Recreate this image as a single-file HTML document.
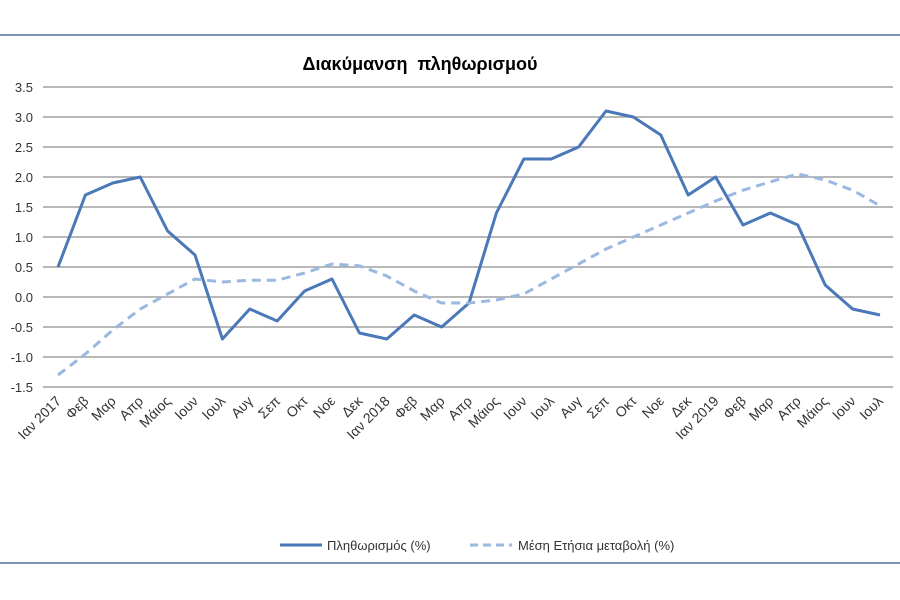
<!DOCTYPE html>
<html><head><meta charset="utf-8"><style>
body{margin:0;background:#fff}
svg{display:block;font-family:"Liberation Sans","DejaVu Sans",sans-serif}
</style></head><body>
<svg width="900" height="600" id="chart">
<line x1="0" y1="35" x2="900" y2="35" stroke="#4a6fa5" stroke-width="1.5"/>
<line x1="0" y1="563" x2="900" y2="563" stroke="#4a6fa5" stroke-width="1.5"/>
<text x="420" y="70" text-anchor="middle" font-size="18" font-weight="bold">Διακύμανση&#160; πληθωρισμού</text>
<g id="grid"></g><g id="ylab"></g><g id="xlab"></g><g id="lines"></g>
<g>
<line x1="280" y1="545" x2="322" y2="545" stroke="#4a78b8" stroke-width="3"/>
<text x="327" y="550" font-size="13" fill="#333">Πληθωρισμός (%)</text>
<line x1="470" y1="545" x2="512" y2="545" stroke="#9ab8e0" stroke-width="3" stroke-dasharray="8,5"/>
<text x="518" y="550" font-size="13" fill="#333">Μέση Ετήσια μεταβολή (%)</text>
</g>
</svg>
<script>
const categories=["Ιαν 2017","Φεβ","Μαρ","Απρ","Μάιος","Ιουν","Ιουλ","Αυγ","Σεπ","Οκτ","Νοε","Δεκ","Ιαν 2018","Φεβ","Μαρ","Απρ","Μάιος","Ιουν","Ιουλ","Αυγ","Σεπ","Οκτ","Νοε","Δεκ","Ιαν 2019","Φεβ","Μαρ","Απρ","Μάιος","Ιουν","Ιουλ"];
const inflation=[0.5,1.7,1.9,2.0,1.1,0.7,-0.7,-0.2,-0.4,0.1,0.3,-0.6,-0.7,-0.3,-0.5,-0.1,1.4,2.3,2.3,2.5,3.1,3.0,2.7,1.7,2.0,1.2,1.4,1.2,0.2,-0.2,-0.3];
const average=[-1.3,-0.95,-0.55,-0.2,0.05,0.3,0.25,0.28,0.28,0.4,0.55,0.52,0.35,0.1,-0.1,-0.1,-0.05,0.05,0.3,0.55,0.8,1.0,1.2,1.4,1.6,1.78,1.92,2.05,1.95,1.78,1.52];
const yTicks=[3.5,3.0,2.5,2.0,1.5,1.0,0.5,0.0,-0.5,-1.0,-1.5];
const NS="http://www.w3.org/2000/svg";
const x=i=>58+i*(822/30);
const y=v=>297-v*60;
function mk(t,a,p){const e=document.createElementNS(NS,t);for(const k in a)e.setAttribute(k,a[k]);document.getElementById(p).appendChild(e);return e;}
yTicks.forEach(v=>{
 const l=mk('line',{x1:43,x2:893,y1:y(v),y2:y(v),stroke:'#a0a0a0','stroke-width':1.5},'grid');
 
 
 const t=mk('text',{x:33,y:y(v)+5,'text-anchor':'end','font-size':13,fill:'#333'},'ylab');
 t.textContent=v.toFixed(1);
 
 
});
categories.forEach((c,i)=>{
 const t=mk('text',{x:x(i)+4,y:402,'text-anchor':'end','font-size':14,fill:'#333',transform:`rotate(-45 ${x(i)+4} 402)`},'xlab');
 t.textContent=c;
 
 
});
const p1=mk('polyline',{points:inflation.map((v,i)=>x(i)+','+y(v)).join(' '),fill:'none',stroke:'#4a78b8','stroke-width':3,'stroke-linejoin':'round'},'lines');


const p2=mk('polyline',{points:average.map((v,i)=>x(i)+','+y(v)).join(' '),fill:'none',stroke:'#9ab8e0','stroke-width':3,'stroke-dasharray':'9,6'},'lines');


</script>
</body></html>
